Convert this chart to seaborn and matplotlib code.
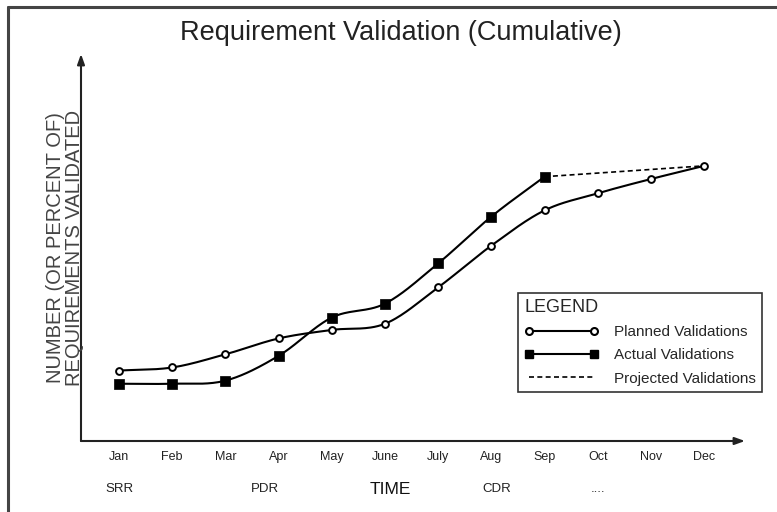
import numpy as np
import pandas as pd
import matplotlib
matplotlib.use("Agg")
import matplotlib.pyplot as plt
from matplotlib.lines import Line2D
import seaborn as sns

# ---- data -------------------------------------------------------------
months = ["Jan", "Feb", "Mar", "Apr", "May", "June", "July", "Aug",
          "Sep", "Oct", "Nov", "Dec"]
planned = [18.2, 19.0, 22.4, 26.5, 28.7, 30.3, 39.7, 50.5, 59.6, 64.0, 67.7, 71.1]
actual = [14.8, 14.8, 15.6, 22.0, 31.9, 35.5, 45.9, 58.0, 68.3]
projected_months = ["Sep", "Dec"]
projected = [68.3, 71.1]
milestones = ["SRR", "PDR", "CDR", "...."]
milestone_pos = [0.0, 2.75, 7.1, 9.0]

sns.set_theme(style="white")
plt.rcParams["font.family"] = ["Liberation Sans", "DejaVu Sans"]

W, H = 777, 512
fig = plt.figure(figsize=(W / 100, H / 100), dpi=100)
fig.patch.set_facecolor("white")

# axes box in pixel terms: x 81..745, y 54..441 (from top)
ax = fig.add_axes([81 / W, 1 - 441 / H, (745 - 81) / W, (441 - 54) / H])
ax.set_facecolor("white")
for s in ax.spines.values():
    s.set_visible(False)


def smooth(xs, ys, n=30):
    """Catmull-Rom curve through the given points (rendering only)."""
    xs = np.asarray(xs, float)
    ys = np.asarray(ys, float)
    P = np.column_stack([xs, ys])
    P = np.vstack([2 * P[0] - P[1], P, 2 * P[-1] - P[-2]])
    out = []
    t = np.linspace(0, 1, n, endpoint=False)
    for i in range(1, len(P) - 2):
        p0, p1, p2, p3 = P[i - 1], P[i], P[i + 1], P[i + 2]
        seg = 0.5 * ((2 * p1)[None, :]
                     + (-p0 + p2)[None, :] * t[:, None]
                     + (2 * p0 - 5 * p1 + 4 * p2 - p3)[None, :] * t[:, None] ** 2
                     + (-p0 + 3 * p1 - 3 * p2 + p3)[None, :] * t[:, None] ** 3)
        out.append(seg)
    out.append(P[-2][None, :])
    arr = np.vstack(out)
    return arr[:, 0], arr[:, 1]


xm = {m: i for i, m in enumerate(months)}
px = [xm[m] for m in months]
ax_ = [xm[m] for m in months[:len(actual)]]

sx, sy = smooth(px, planned)
df_p = pd.DataFrame({"x": sx, "y": sy})
sx2, sy2 = smooth(ax_, actual)
df_a = pd.DataFrame({"x": sx2, "y": sy2})

sns.lineplot(data=df_p, x="x", y="y", ax=ax, color="black", lw=1.5,
             sort=False, estimator=None)
sns.lineplot(data=df_a, x="x", y="y", ax=ax, color="black", lw=1.5,
             sort=False, estimator=None)
df_proj = pd.DataFrame({"x": [xm[m] for m in projected_months], "y": projected})
sns.lineplot(data=df_proj, x="x", y="y", ax=ax, color="black", lw=1.2,
             linestyle=(0, (3, 2)), sort=False, estimator=None)

sns.scatterplot(x=px, y=planned, ax=ax, marker="o", s=24, color="white",
                edgecolor="black", linewidth=1.4, zorder=5)
sns.scatterplot(x=ax_, y=actual, ax=ax, marker="s", s=60, color="black",
                edgecolor="black", linewidth=0.5, zorder=5)

ax.set_xlim((81 - 119) / 53.2, (745 - 119) / 53.2)
ax.set_ylim(0, 100)
ax.set_xlabel("")
ax.set_ylabel("")
ax.set_yticks([])
ax.set_xticks(range(len(months)))
ax.set_xticklabels(months, fontsize=9, color="#222222")
ax.tick_params(axis="x", length=0, pad=7)

# arrowed axes
arrow = dict(arrowstyle="-|>,head_length=0.5,head_width=0.18", color="#222222",
             lw=1.5, shrinkA=0, shrinkB=0)
ax.annotate("", xy=(0, 1), xytext=(0, 0), xycoords="axes fraction",
            arrowprops=arrow)
ax.annotate("", xy=(1, 0), xytext=(0, 0), xycoords="axes fraction",
            arrowprops=arrow)

# milestone row and axis names
trans = ax.get_xaxis_transform()
for name, pos in zip(milestones, milestone_pos):
    ax.text(pos, -48 / 387, name, transform=trans, ha="center", va="center",
            fontsize=9.5, color="#222222")
fig.text(390 / W, 1 - 489 / H, "TIME", ha="center", va="center",
         fontsize=12.5, color="#111111")
fig.text(65 / W, 1 - 248 / H, "NUMBER (OR PERCENT OF)\nREQUIREMENTS VALIDATED",
         rotation=90, ha="center", va="center", fontsize=14.5,
         linespacing=1.0, color="#444444")
fig.text(401 / W, 1 - 33 / H, "Requirement Validation (Cumulative)",
         ha="center", va="center", fontsize=19.5, color="#222222")

# legend
handles = [
    Line2D([], [], color="black", lw=1.5, marker="o", markersize=5,
           markerfacecolor="white", markeredgewidth=1.5),
    Line2D([], [], color="black", lw=1.5, marker="s", markersize=6,
           markerfacecolor="black"),
    Line2D([], [], color="black", lw=1.2, linestyle=(0, (3, 2))),
]
labels = ["Planned Validations", "Actual Validations", "Projected Validations"]
leg = fig.legend(handles, labels, title="LEGEND", loc="upper left",
                 bbox_to_anchor=(518 / W, 1 - 293 / H), borderaxespad=0,
                 numpoints=2, fontsize=11, title_fontsize=13, alignment="left",
                 frameon=True, fancybox=False, edgecolor="black",
                 handlelength=4.9, handletextpad=1.0, labelspacing=0.6,
                 borderpad=0.4)
leg.get_frame().set_linewidth(1.2)

# outer frame lines
fig.add_artist(Line2D([8 / W, 8 / W], [0, 1 - 7 / H], color="#444444", lw=2.2,
                      transform=fig.transFigure))
fig.add_artist(Line2D([8 / W, 1], [1 - 7 / H, 1 - 7 / H], color="#444444",
                      lw=2.2, transform=fig.transFigure))

fig.savefig("out.png", dpi=100, facecolor="white")
